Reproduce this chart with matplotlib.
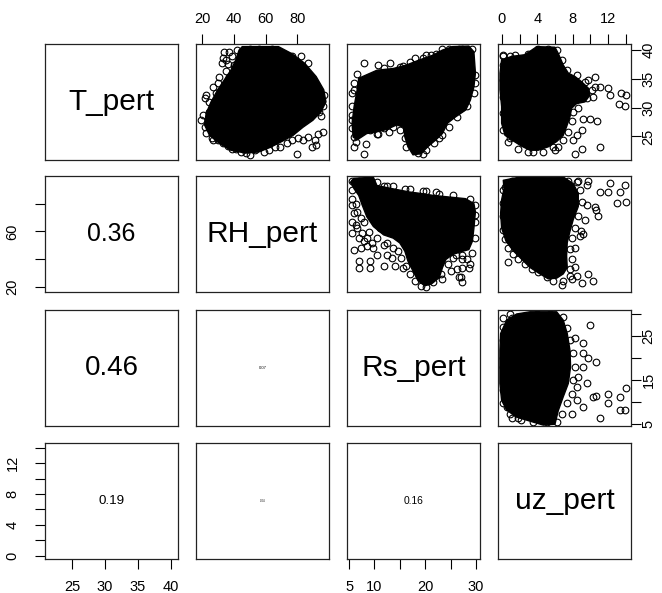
import matplotlib.pyplot as plt

plt.rcParams['font.family'] = ['Liberation Sans', 'DejaVu Sans']

names = ["T_pert", "RH_pert", "Rs_pert", "uz_pert"]

# range of each variable (axes get R's 4 % padding on top of this)
var_min = [21.65, 19.2, 5.57, 0.11]
var_max = [40.31, 97.0, 29.83, 14.05]

tick_pos = [
    [25, 30, 35, 40],
    [20, 40, 60, 80],
    [5, 10, 15, 20, 25, 30],
    [0, 2, 4, 6, 8, 10, 12, 14],
]
tick_lab_top = [
    ["25", "30", "35", "40"],
    ["20", "40", "60", "80"],
    ["5", "10", "15", "20", "25", "30"],
    ["0", "", "4", "", "8", "", "12", ""],
]
# labels that R drops on the side / bottom axes (overlap)
tick_lab_side = [
    ["25", "30", "35", "40"],
    ["20", "", "60", ""],
    ["5", "", "15", "", "25", ""],
    ["0", "", "4", "", "8", "", "12", ""],
]
tick_lab_bottom = [
    ["25", "30", "35", "40"],
    ["20", "40", "60", "80"],
    ["5", "10", "", "20", "", "30"],
    ["0", "", "4", "", "8", "", "12", ""],
]

# |r| shown in the lower panels
cor_rows = [1, 2, 3, 2, 3, 3]
cor_cols = [0, 0, 0, 1, 1, 2]
cor_vals = [0.36, 0.46, 0.19, 0.07, 0.04, 0.16]

# --- upper panels: outline of the saturated (all black) part + loose points ---
# T vs RH
t_rh_core_x = [45.3, 68.2, 76.5, 84.8, 92.0, 96.8, 98.2, 95.1, 89.9, 83.7, 77.5, 70.2, 63.0,
               55.7, 47.4, 38.1, 30.8, 24.6, 21.5, 22.5, 25.6, 29.8, 33.9, 38.1, 41.2, 43.3]
t_rh_core_y = [40.6, 40.6, 39.4, 37.7, 35.4, 33.1, 31.0, 29.3, 27.8, 26.6, 25.2, 24.1, 23.1,
               22.3, 22.1, 22.6, 23.8, 25.2, 27.0, 29.0, 31.0, 33.1, 34.8, 36.5, 38.3, 40.0]
t_rh_pts_x = [33.9, 33.3, 32.5, 36.0, 35.0, 30.8, 29.8, 26.7, 22.5, 24.2, 21.5, 19.5, 21.5,
              22.5, 26.3, 29.8, 36.0, 41.2, 47.4, 53.6, 58.8, 69.2, 80.2, 76.5, 83.7, 93.0,
              96.2, 91.4, 92.0, 89.3, 88.9, 94.1, 95.1, 69.2, 76.5, 42.2, 50.5,
              37.0, 39.1, 35.0, 40.2, 37.0, 33.9, 28.8, 31.9, 26.7, 24.6, 20.5, 23.6, 26.7,
              32.9, 39.1, 44.3, 50.5, 61.9, 66.1, 73.3, 80.6, 86.8, 87.9, 93.0, 96.9, 96.2,
              82.7, 86.8, 64.0, 55.7]
t_rh_pts_y = [39.6, 38.7, 37.7, 37.6, 36.3, 35.4, 34.2, 33.6, 32.2, 31.0, 31.6, 27.8, 26.6,
              25.6, 24.8, 24.3, 23.3, 22.9, 22.1, 22.6, 22.3, 23.2, 21.9, 24.4, 24.4, 25.4,
              25.8, 24.4, 23.5, 23.1, 30.2, 29.3, 28.5, 39.2, 38.9, 40.0, 40.2,
              39.7, 38.9, 38.3, 37.4, 35.4, 33.6, 32.5, 31.6, 30.5, 29.3, 28.7, 27.3, 24.4,
              23.8, 22.9, 22.3, 21.8, 22.6, 23.2, 23.8, 24.7, 24.9, 31.3, 31.9, 32.2, 30.2,
              38.9, 37.7, 40.2, 40.2]

# T vs Rs
t_rs_core_x = [6.9, 10.5, 13.7, 16.3, 18.9, 21.5, 23.4, 25.4, 28.6, 29.6, 29.9, 29.6, 28.9,
               28.0, 26.0, 24.4, 23.4, 22.1, 20.5, 19.2, 17.6, 16.6, 16.0, 15.7, 14.4, 12.4,
               10.5, 8.5, 6.6, 5.8, 5.6, 6.0, 6.6]
t_rs_core_y = [35.1, 36.5, 36.8, 37.4, 38.3, 39.1, 40.0, 40.6, 40.7, 39.7, 36.0, 33.6, 31.3,
               29.6, 28.4, 27.3, 25.5, 24.4, 23.2, 22.0, 21.8, 23.2, 24.9, 26.6, 27.0, 26.2,
               25.8, 25.5, 24.4, 24.9, 27.3, 30.2, 33.1]
t_rs_pts_x = [8.0, 10.8, 13.1, 15.7, 17.9, 20.2, 23.4, 6.0, 5.6, 5.6, 6.0, 6.3, 6.0, 8.4, 7.9,
              10.8, 12.8, 11.8, 16.0, 18.6, 19.6, 22.8, 25.4, 27.0, 29.8, 23.4, 21.2, 24.7,
              26.7, 11.1, 9.5, 13.5,
              6.6, 6.0, 5.6, 5.6, 5.6, 6.6, 7.6, 9.2, 10.5, 13.7, 15.0, 17.0, 16.3, 20.2,
              21.8, 23.4, 24.7, 26.3, 28.3, 29.6, 29.8, 11.8, 15.0, 17.0, 19.5, 22.1, 27.3,
              29.3]
t_rs_pts_y = [37.7, 37.4, 37.7, 37.2, 38.6, 39.2, 40.2, 33.1, 27.8, 26.4, 24.9, 24.1, 23.2,
              23.7, 22.0, 25.5, 25.8, 26.4, 24.7, 22.2, 22.0, 24.7, 29.6, 29.9, 35.7, 39.4,
              39.1, 40.2, 40.2, 32.5, 30.0, 29.0,
              35.9, 34.2, 32.5, 30.2, 28.7, 27.0, 26.4, 26.1, 25.5, 26.7, 26.1, 24.4, 23.2,
              22.6, 23.8, 25.2, 26.7, 28.4, 30.2, 32.5, 34.2, 36.8, 37.1, 38.0, 38.6, 39.4,
              40.2, 40.2]

# T vs uz
t_uz_core_x = [3.93, 6.0, 6.38, 6.94, 7.51, 8.27, 9.02, 9.77, 9.96, 9.40, 8.45, 7.89, 7.7,
               7.32, 6.94, 6.19, 5.25, 4.11, 3.17, 2.23, 1.10, 0.34, -0.04, -0.04, -0.22,
               -0.22, -0.04, 1.10, 2.6, 3.66]
t_uz_core_y = [40.6, 40.5, 39.4, 37.4, 36.0, 35.4, 34.5, 33.4, 32.2, 31.0, 30.7, 29.9, 28.4,
               26.7, 25.2, 24.1, 23.2, 22.6, 22.6, 23.3, 24.4, 25.2, 27.3, 30.2, 33.1, 36.0,
               38.3, 38.9, 39.2, 40.3]
t_uz_pts_x = [0.15, 0.91, 10.53, 10.53, 11.1, 12.04, 12.23, 13.47, 14.0, 13.25, 13.9, 8.64,
              9.21, 9.96, 10.72, 9.02, 8.45, 8.08, 6.38, 6.0, 9.02, 8.27, 11.1, 3.55, 0.72,
              0.91, 10.34, 9.77,
              0.15, 1.47, 2.98, 4.12, 5.25, 6.19, 6.76, 7.32, 8.45, 9.4, 10.15, 9.58, 8.08,
              7.89, 7.51, 6.94, 5.81, 4.68, 2.98, 1.85, 0.72, 0.15, 0.12, 0.12, 0.12, 0.12]
t_uz_pts_y = [38.9, 39.0, 35.4, 33.6, 33.6, 33.4, 32.2, 32.5, 32.2, 30.7, 30.3, 29.9, 28.1,
              28.0, 27.7, 26.1, 25.2, 24.4, 23.2, 22.6, 22.9, 21.9, 23.2, 22.3, 26.1, 24.7,
              31.9, 34.8,
              39.2, 39.2, 39.4, 40.2, 40.2, 40.0, 38.3, 36.5, 35.7, 34.5, 33.1, 31.6, 29.3,
              27.6, 25.8, 24.4, 23.2, 22.3, 22.3, 22.9, 24.1, 26.1, 29.0, 31.9, 34.8, 37.4]

# RH vs Rs
rh_rs_core_x = [5.3, 5.96, 9.8, 10.5, 13.7, 16.96, 19.5, 21.5, 24.7, 27.96, 29.6, 29.9, 29.6,
                29.3, 28.6, 27.0, 25.4, 24.1, 23.4, 22.8, 21.2, 19.9, 18.6, 17.6, 16.6, 16.0,
                15.0, 13.7, 11.8, 9.8, 8.5, 7.6, 6.9, 6.0]
rh_rs_core_y = [95.6, 98.5, 99.2, 93.2, 90.8, 88.5, 87.3, 86.1, 84.9, 83.7, 80.1, 74.2, 62.3,
                52.8, 46.8, 45.2, 43.2, 39.7, 33.7, 26.6, 21.8, 20.6, 24.2, 31.3, 38.5, 45.6,
                51.6, 55.1, 57.5, 63.5, 70.6, 79.0, 86.1, 90.8]
rh_rs_pts_x = [6.0, 5.6, 6.0, 5.6, 6.3, 5.6, 6.9, 7.9, 6.0, 7.3, 8.5, 9.8, 11.8, 6.9, 6.9,
               9.2, 9.2, 11.8, 13.4, 14.0, 15.7, 12.4, 10.5, 8.9, 7.9, 11.1, 26.0, 27.3, 28.3,
               28.9, 26.3, 25.0, 28.6, 27.0, 27.2, 23.4, 20.2, 11.8, 13.7, 16.0, 19.5, 22.1,
               29.8,
               5.6, 6.9, 7.9, 5.6, 5.6, 6.3, 6.6, 7.3, 6.6, 7.6, 8.5, 9.5, 10.5, 12.4, 13.7,
               14.7, 15.3, 16.3, 17.0, 18.0, 19.2, 21.5, 23.1, 24.4, 25.4, 27.3, 29.3, 29.8,
               29.8, 29.8, 28.9, 25.4, 22.8, 20.2, 17.0, 12.4, 10.5, 26.7, 27.3]
rh_rs_pts_y = [95.6, 78.9, 73.0, 67.0, 64.7, 58.7, 55.1, 52.8, 46.8, 48.0, 49.2, 48.0, 50.4,
               38.5, 33.7, 38.5, 33.7, 34.9, 40.9, 34.9, 33.7, 43.2, 43.2, 59.9, 67.0, 62.3,
               43.2, 39.7, 39.7, 36.1, 32.5, 31.3, 33.7, 26.6, 23.0, 25.4, 19.4, 93.2, 93.2,
               90.8, 89.6, 88.5, 71.8,
               96.5, 96.5, 93.2, 89.7, 83.7, 80.1, 74.2, 69.4, 62.3, 58.7, 55.1, 51.6, 55.1,
               51.6, 48.0, 45.6, 40.9, 34.9, 29.0, 24.2, 20.6, 23.0, 29.0, 36.1, 40.9, 43.2,
               44.4, 55.1, 67.0, 78.9, 83.7, 86.1, 87.3, 89.6, 90.8, 93.2, 95.6, 26.6, 33.7]

# RH vs uz
rh_uz_core_x = [0.15, 1.66, 6.94, 8.07, 8.64, 8.64, 8.07, 7.7, 7.39, 7.32, 7.39, 6.94, 6.19,
                5.24, 4.3, 3.17, 2.22, 1.28, 0.45, -0.04, -0.15, -0.04, 0.23]
rh_uz_core_y = [97.0, 98.9, 99.4, 94.6, 87.5, 78.0, 68.5, 60.1, 51.8, 42.3, 33.9, 29.2, 26.1,
                25.6, 29.2, 33.9, 39.9, 45.9, 53.0, 62.5, 73.2, 82.8, 91.1]
rh_uz_pts_x = [0.34, 1.85, 3.17, 4.68, 8.45, 9.58, 9.77, 11.09, 12.2, 12.0, 13.35, 13.92,
               13.05, 14.0, 9.58, 10.53, 10.7, 10.9, 9.39, 9.0, 8.83, 9.2, 8.26, 0.72, 2.66,
               8.26, 8.45, 9.77, 9.02, 10.34, 6.75, 7.88,
               0.12, 0.12, 0.12, 0.12, 0.34, 0.72, 1.28, 1.85, 2.6, 3.36, 4.11, 5.05, 5.81,
               6.94, 7.7, 7.7, 7.88, 7.7, 7.88, 8.26, 8.64, 9.02, 8.83, 8.64, 7.51, 5.43,
               3.17, 1.09]
rh_uz_pts_y = [92.3, 95.8, 95.8, 96.5, 95.8, 93.5, 96.5, 88.7, 95.1, 88.7, 88.7, 93.5, 80.4,
               81.6, 79.2, 78.0, 75.6, 70.9, 68.5, 60.1, 56.6, 57.8, 48.2, 37.5, 42.3, 33.9,
               28.0, 29.2, 22.8, 24.4, 20.9, 25.6,
               89.9, 80.4, 70.9, 61.3, 54.2, 48.2, 43.5, 39.9, 36.3, 32.8, 30.4, 26.8, 24.4,
               24.4, 28.0, 32.8, 39.9, 47.0, 55.4, 62.5, 70.9, 81.6, 89.9, 96.5, 96.5, 96.5,
               96.5, 96.5]

# Rs vs uz
rs_uz_core_x = [0.53, 1.66, 3.17, 6.19, 6.94, 7.39, 7.7, 7.77, 7.51, 6.94, 6.38, 6.0, 4.68,
                3.17, 1.66, 0.53, -0.04, -0.23, -0.23, -0.15]
rs_uz_core_y = [28.5, 29.9, 30.4, 30.4, 28.5, 25.5, 21.7, 18.0, 14.2, 11.2, 8.1, 5.0, 4.8,
                5.7, 6.6, 8.2, 10.4, 14.2, 21.7, 25.5]
rs_uz_pts_x = [1.09, 0.15, 0.12, 0.53, 1.09, 1.85, 9.96, 8.26, 9.2, 9.2, 9.77, 10.7, 9.2,
               8.64, 9.58, 8.45, 10.34, 10.7, 12.0, 13.35, 14.0, 12.0, 13.35, 13.92, 11.09,
               9.2, 8.45, 7.88,
               0.9, 0.15, 0.12, 0.12, 0.12, 0.15, 0.9, 2.2, 3.55, 5.05, 6.19, 6.75, 7.32,
               7.88, 8.07, 8.26, 8.07, 7.7, 7.39, 6.94, 5.43, 3.93]
rs_uz_pts_y = [28.9, 27.0, 19.9, 8.9, 6.3, 6.3, 27.4, 24.4, 23.3, 21.0, 19.9, 19.1, 18.0,
               15.7, 14.2, 13.4, 11.2, 11.3, 11.9, 11.2, 13.1, 9.7, 8.2, 8.2, 6.3, 8.9, 10.4,
               7.4,
               29.8, 28.9, 24.0, 18.0, 12.7, 9.7, 7.4, 5.9, 5.6, 5.6, 5.6, 7.4, 9.7, 11.9,
               15.0, 18.0, 21.0, 24.0, 26.7, 29.3, 29.8, 29.8]

panels = {
    (0, 1): (t_rh_core_x, t_rh_core_y, t_rh_pts_x, t_rh_pts_y),
    (0, 2): (t_rs_core_x, t_rs_core_y, t_rs_pts_x, t_rs_pts_y),
    (0, 3): (t_uz_core_x, t_uz_core_y, t_uz_pts_x, t_uz_pts_y),
    (1, 2): (rh_rs_core_x, rh_rs_core_y, rh_rs_pts_x, rh_rs_pts_y),
    (1, 3): (rh_uz_core_x, rh_uz_core_y, rh_uz_pts_x, rh_uz_pts_y),
    (2, 3): (rs_uz_core_x, rs_uz_core_y, rs_uz_pts_x, rs_uz_pts_y),
}

# ---------------------------------------------------------------- layout
W, H = 662, 593
lefts = [45, 196, 347, 498]
tops = [44, 176, 310, 443]
pw, ph = 133, 116
cor_size = {0.36: 17.8, 0.46: 20, 0.19: 9.6, 0.07: 3, 0.04: 2, 0.16: 7.4}
n = len(names)


def lims(k):
    pad = 0.04 * (var_max[k] - var_min[k])
    return var_min[k] - pad, var_max[k] + pad


fig = plt.figure(figsize=(W / 100, H / 100), dpi=100)
axes = {}
for i in range(n):
    for j in range(n):
        ax = fig.add_axes([lefts[j] / W, 1 - (tops[i] + ph) / H, pw / W, ph / H])
        ax.set_xlim(lims(j))
        ax.set_ylim(lims(i))
        ax.tick_params(which='both', direction='out', length=7.2, width=0.8,
                       labelsize=10.5, colors='black',
                       bottom=False, left=False, labelbottom=False, labelleft=False)
        for s in ax.spines.values():
            s.set_linewidth(0.9)
            s.set_color('#222222')
        axes[(i, j)] = ax

        if i == j:
            ax.text(0.5, 0.5, names[i], transform=ax.transAxes, ha='center',
                    va='center', fontsize=21.5)
        elif i < j:
            cx, cy, px, py = panels[(i, j)]
            ax.fill(cx, cy, color='black', lw=1.0, joinstyle='round', zorder=1)
            ax.plot(px, py, 'o', mfc='none', mec='black', ms=4.8, mew=0.8, ls='none',
                    zorder=2)

        # outer axes, alternating like R's pairs()
        top_ax = i == 0 and j % 2 == 1
        bot_ax = i == n - 1 and j % 2 == 0
        left_ax = j == 0 and i % 2 == 1
        right_ax = j == n - 1 and i % 2 == 0
        if top_ax:
            ax.set_xticks(tick_pos[j], tick_lab_top[j])
            ax.tick_params(axis='x', top=True, labeltop=True, pad=5.5)
        elif bot_ax:
            ax.set_xticks(tick_pos[j], tick_lab_bottom[j])
            ax.tick_params(axis='x', bottom=True, labelbottom=True, pad=8)
        else:
            ax.set_xticks([])
        if left_ax:
            ax.set_yticks(tick_pos[i], tick_lab_side[i])
            ax.tick_params(axis='y', left=True, labelleft=True, labelrotation=90, pad=11)
            for lb in ax.get_yticklabels():
                lb.set_va('center')
        elif right_ax:
            ax.set_yticks(tick_pos[i], tick_lab_side[i])
            ax.tick_params(axis='y', right=True, labelright=True, labelrotation=90, pad=0.5)
            for lb in ax.get_yticklabels():
                lb.set_va('center')
        else:
            ax.set_yticks([])

for r, c, v in zip(cor_rows, cor_cols, cor_vals):
    ax = axes[(r, c)]
    ax.text(0.5, 0.5, f"{v:.2f}", transform=ax.transAxes, ha='center', va='center',
            fontsize=cor_size[v])

fig.savefig("out.png", dpi=100)
